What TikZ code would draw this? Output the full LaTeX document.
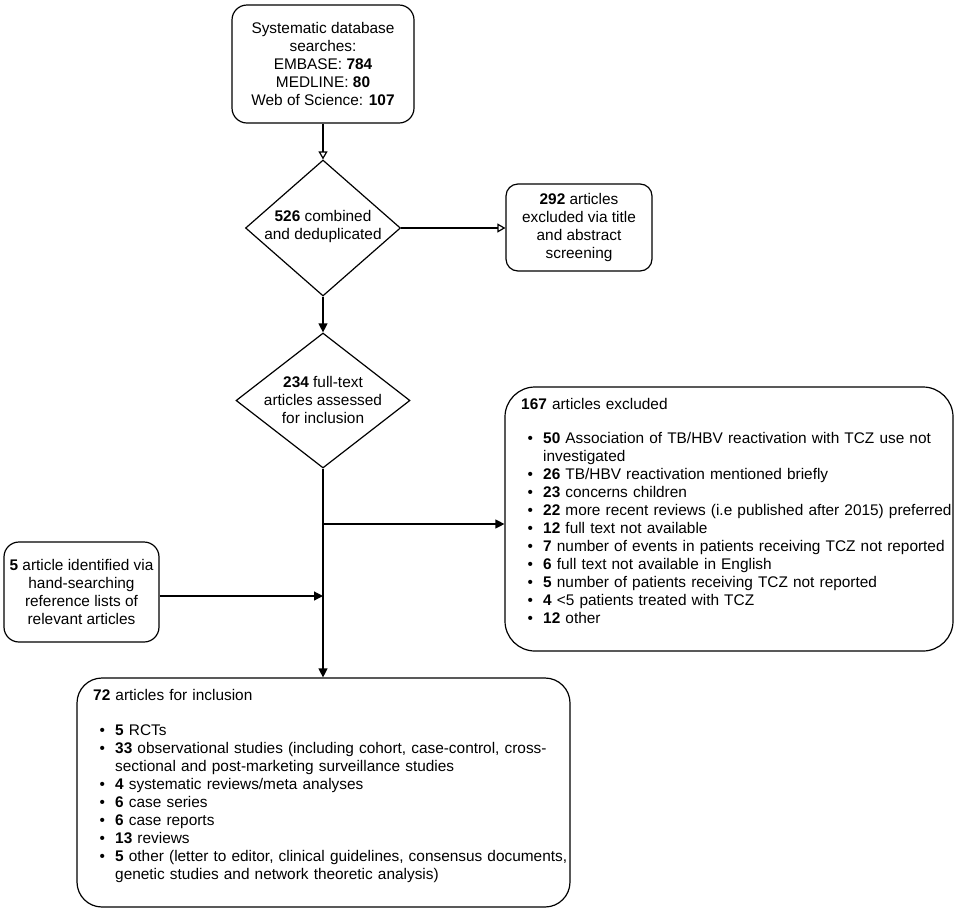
\documentclass[tikz,border=0pt]{standalone}
\usepackage{fontspec}
\setmainfont{Liberation Sans}
\usetikzlibrary{shapes.geometric,arrows.meta}
\newcommand{\bitem}[1]{\par\hangindent=22pt\hangafter=1\noindent\makebox[22pt][l]{\hspace{6.5pt}\textbullet}#1}
\begin{document}
\begin{tikzpicture}[x=1pt,y=-1pt,
  every node/.style={font=\fontsize{15.4}{18}\selectfont, inner sep=0pt},
  box/.style={draw, rounded corners=15pt, line width=1.2pt},
  dia/.style={draw, diamond, line width=1.2pt},
  conn/.style={line width=1.2pt},
  listtext/.style={anchor=base west, align=left, execute at begin node={\hyphenpenalty=10000\exhyphenpenalty=10000}},
  opentip/.style={-{Triangle[open,length=8pt,width=9pt]}},
  filltip/.style={-{Triangle[length=9pt,width=9pt]}}
]
\useasboundingbox (0,0) rectangle (957,911);

% top box
\node[box, minimum width=182pt, minimum height=118pt, align=center] (top) at (323,64)
  {Systematic database\\searches:\\EMBASE: \textbf{784}\\MEDLINE: \textbf{80}\\Web of Science: \textbf{107}};

% diamond 1
\node[dia, minimum width=155pt, minimum height=136pt] (d1) at (323,228) {};
\node[align=center] (d1t) at (323,227) {\textbf{526} combined\\and deduplicated};

% excluded 1
\node[box, rounded corners=12pt, minimum width=146pt, minimum height=87pt, align=center] (ex1) at (579,227.5)
  {\textbf{292} articles\\excluded via title\\and abstract\\screening};

% diamond 2
\node[dia, minimum width=174pt, minimum height=135pt] (d2) at (323,400.5) {};
\node[align=center] (d2t) at (323,400) {\textbf{234} full-text\\articles assessed\\for inclusion};

% excluded 2
\node[box, rounded corners=30pt, minimum width=448pt, minimum height=264pt] (ex2) at (729,519) {};
\node[listtext, text width=445pt] (ex2t) at (521,409)
  {\textbf{167} articles excluded\par\vspace{16pt}%
   \bitem{\textbf{50} Association of TB/HBV reactivation with TCZ use not\newline investigated}
   \bitem{\textbf{26} TB/HBV reactivation mentioned briefly}
   \bitem{\textbf{23} concerns children}
   \bitem{\textbf{22} more recent reviews (i.e published after 2015) preferred}
   \bitem{\textbf{12} full text not available}
   \bitem{\textbf{7} number of events in patients receiving TCZ not reported}
   \bitem{\textbf{6} full text not available in English}
   \bitem{\textbf{5} number of patients receiving TCZ not reported}
   \bitem{\textbf{4} <5 patients treated with TCZ}
   \bitem{\textbf{12} other}\par};

% hand-searching box
\node[box, minimum width=155pt, minimum height=100pt, align=center] (hand) at (81.5,592)
  {\textbf{5} article identified via\\hand-searching\\reference lists of\\relevant articles};

% inclusion box
\node[box, rounded corners=25pt, minimum width=493pt, minimum height=229pt] (incl) at (323.5,792.5) {};
\node[listtext, text width=490pt] (inclt) at (93,700)
  {\textbf{72} articles for inclusion\par\vspace{17pt}%
   \bitem{\textbf{5} RCTs}
   \bitem{\textbf{33} observational studies (including cohort, case-control, cross-\newline sectional and post-marketing surveillance studies}
   \bitem{\textbf{4} systematic reviews/meta analyses}
   \bitem{\textbf{6} case series}
   \bitem{\textbf{6} case reports}
   \bitem{\textbf{13} reviews}
   \bitem{\textbf{5} other (letter to editor, clinical guidelines, consensus documents,\newline genetic studies and network theoretic analysis)}\par};

% connectors
\coordinate (b1) at (323,524);
\coordinate (b2) at (323,596);
\draw[conn, opentip] (top.south) -- (d1.north);
\draw[conn, opentip] (d1.east) -- (d1.east -| ex1.west);
\draw[conn, filltip] (d1.south) -- (d2.north);
\draw[conn, filltip] (d2.south) -- (d2.south |- incl.north);
\draw[conn, filltip] (b1) -- (b1 -| ex2.west);
\draw[conn, filltip] (hand.east |- b2) -- (b2);
\end{tikzpicture}
\end{document}
